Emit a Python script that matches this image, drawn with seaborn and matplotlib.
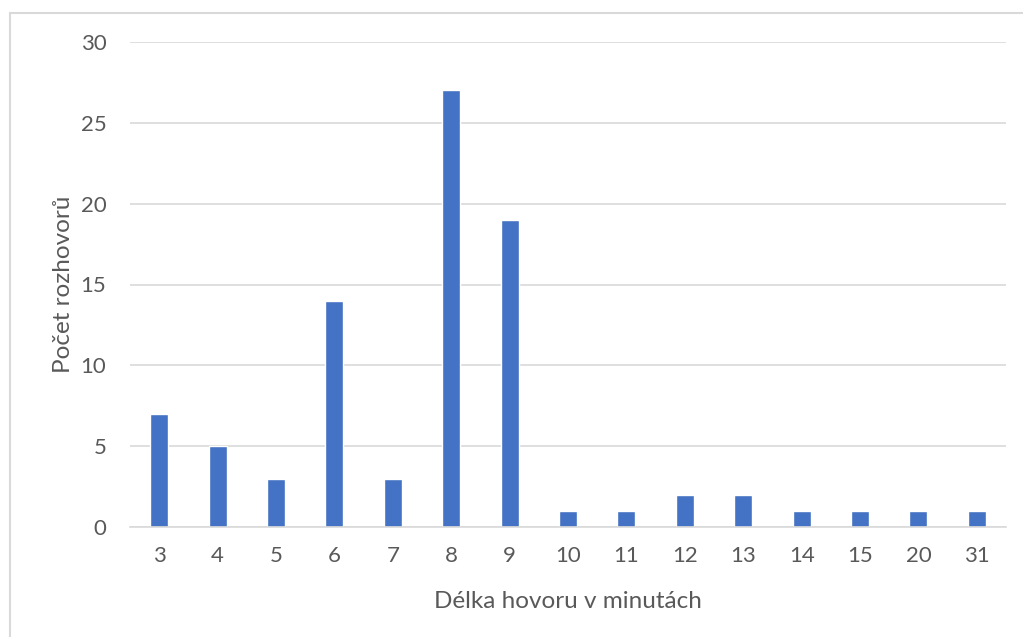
import matplotlib
matplotlib.use("Agg")
import matplotlib.pyplot as plt
from matplotlib.lines import Line2D
import seaborn as sns
import pandas as pd

# Call length (minutes) and number of interviews
durations = ["3", "4", "5", "6", "7", "8", "9", "10", "11", "12", "13", "14", "15", "20", "31"]
counts = [7, 5, 3, 14, 3, 27, 19, 1, 1, 2, 2, 1, 1, 1, 1]
y_ticks = [0, 5, 10, 15, 20, 25, 30]

df = pd.DataFrame({"delka": durations, "pocet": counts})

sns.set_theme(style="white")
plt.rcParams["font.family"] = ["Lato", "DejaVu Sans"]

W, H = 1023, 637
fig = plt.figure(figsize=(W / 100, H / 100), dpi=100)
ax = fig.add_axes([130 / W, 1 - 527 / H, (1006 - 130) / W, (527 - 42) / H])

sns.barplot(data=df, x="delka", y="pocet", order=durations, color="#4472C4",
            saturation=1, width=0.31, ax=ax)

ax.set_ylim(0, 30)
ax.set_xlim(-0.5, len(durations) - 0.5)
ax.set_yticks(y_ticks)
ax.yaxis.grid(True, color="#d9d9d9", linewidth=1.2)
ax.set_axisbelow(True)
for s in ["top", "right", "left"]:
    ax.spines[s].set_visible(False)
ax.spines["bottom"].set_color("#d9d9d9")
ax.spines["bottom"].set_linewidth(1.2)
ax.tick_params(axis="both", length=0, labelsize=16, colors="#595959")
ax.tick_params(axis="x", pad=14)
ax.tick_params(axis="y", pad=17)

ax.set_xlabel("Délka hovoru v minutách", fontsize=17.5, color="#595959", labelpad=18)
ax.set_ylabel("Počet rozhovorů", fontsize=17.5, color="#595959", labelpad=5)

# Outer chart frame (top and left edges)
fig.add_artist(Line2D([9.5 / W, 9.5 / W], [0, 1 - 13 / H], transform=fig.transFigure,
                      color="#d9d9d9", linewidth=1.5))
fig.add_artist(Line2D([9.5 / W, 1], [1 - 13 / H, 1 - 13 / H], transform=fig.transFigure,
                      color="#d9d9d9", linewidth=1.5))

fig.savefig("out.png", dpi=100)
